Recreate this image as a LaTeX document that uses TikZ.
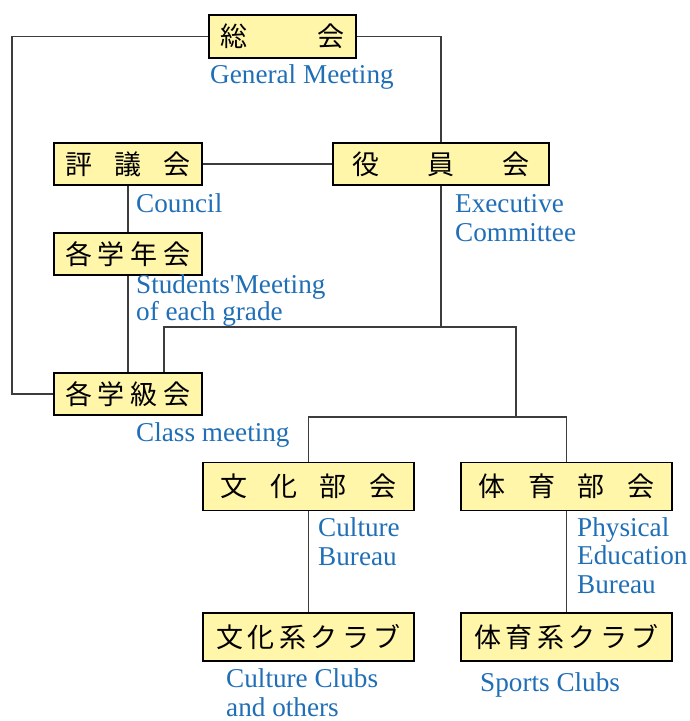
\documentclass[tikz,border=0pt]{standalone}
\usepackage{fontspec}
\setmainfont{Liberation Serif}
\newfontfamily\jpfont{Noto Sans CJK JP}
\usepackage{tikz}
\usetikzlibrary{calc}

\definecolor{boxyellow}{RGB}{255,246,170}
\definecolor{engblue}{RGB}{31,110,182}
\definecolor{linegray}{RGB}{60,60,60}

\tikzset{
  box/.style={draw=black, fill=boxyellow, line width=1.3pt, inner sep=0pt,
    minimum height=42pt, font=\jpfont\fontsize{27}{27}\selectfont},
  lbl/.style={text=engblue, anchor=base west, inner sep=0pt, align=left,
    font=\fontsize{27.2}{28.5}\selectfont},
  conn/.style={draw=linegray, line width=1.3pt}
}
\newcommand{\spread}[2]{\makebox[#1pt][s]{#2}}

\begin{document}
\begin{tikzpicture}[x=1pt,y=-1pt]
\useasboundingbox (0,0) rectangle (690,721);

%Shape: Rectangle [boxes]
\node[box, minimum width=147pt, minimum height=43pt] (gm) at (282.5,36.5) {\spread{125}{総 会}};
\node[box, minimum width=148pt] (council) at (128,164) {\spread{126}{評 議 会}};
\node[box, minimum width=216pt] (exec) at (441,164) {\spread{178}{役 員 会}};
\node[box, minimum width=148pt] (grade) at (128,254) {\spread{126}{各 学 年 会}};
\node[box, minimum width=148pt] (cls) at (128,394) {\spread{126}{各 学 級 会}};
\node[box, minimum width=211pt, minimum height=48pt] (culture) at (308.5,486.5) {\spread{176}{文 化 部 会}};
\node[box, minimum width=211pt, minimum height=48pt] (sports) at (566.5,486.5) {\spread{176}{体 育 部 会}};
\node[box, minimum width=211pt, minimum height=48pt] (cclubs) at (308.5,637) {\spread{184}{文 化 系 ク ラ ブ}};
\node[box, minimum width=211pt, minimum height=48pt] (sclubs) at (566.5,637) {\spread{184}{体 育 系 ク ラ ブ}};

%Connectors
\coordinate (lft) at (12,200);
\coordinate (hubL) at (164,327);
\coordinate (hubR) at (516,327);
\coordinate (hub2) at (516,417);
\draw[conn] (gm.west) -| (lft) |- (cls.west);
\draw[conn] (gm.east) -| (exec.north);
\draw[conn] (council.east) -- (exec.west);
\draw[conn] (council.south) -- (grade.north);
\draw[conn] (grade.south) -- (cls.north);
\draw[conn] (exec.south) -- (exec.south |- hubL);
\draw[conn] (hubL |- cls.north) -- (hubL) -- (hubR) -- (hub2);
\draw[conn] (culture.north) |- (hub2) -| (sports.north);
\draw[conn] (culture.south) -- (cclubs.north);
\draw[conn] (sports.south) -- (sclubs.north);

% Text Node
\node[lbl] (gmtxt) at (210,83) {General Meeting};
% Text Node
\node[lbl] (counciltxt) at (136,212) {Council};
% Text Node
\node[lbl] (exectxt) at (455,241) {Executive\\Committee};
% Text Node
\node[lbl, font=\fontsize{27.2}{23}\selectfont] (gradetxt) at (136,320) {Students\textquotesingle Meeting\\of each grade};
% Text Node
\node[lbl] (clstxt) at (136,441) {Class meeting};
% Text Node
\node[lbl] (culturetxt) at (318,565) {Culture\\Bureau};
% Text Node
\node[lbl] (sportstxt) at (577,593) {Physical\\Education\\Bureau};
% Text Node
\node[lbl, text depth=0pt] (cclubstxt) at (226,716) {Culture Clubs\\and others};
% Text Node
\node[lbl] (sclubstxt) at (480,691) {Sports Clubs};
\end{tikzpicture}
\end{document}
